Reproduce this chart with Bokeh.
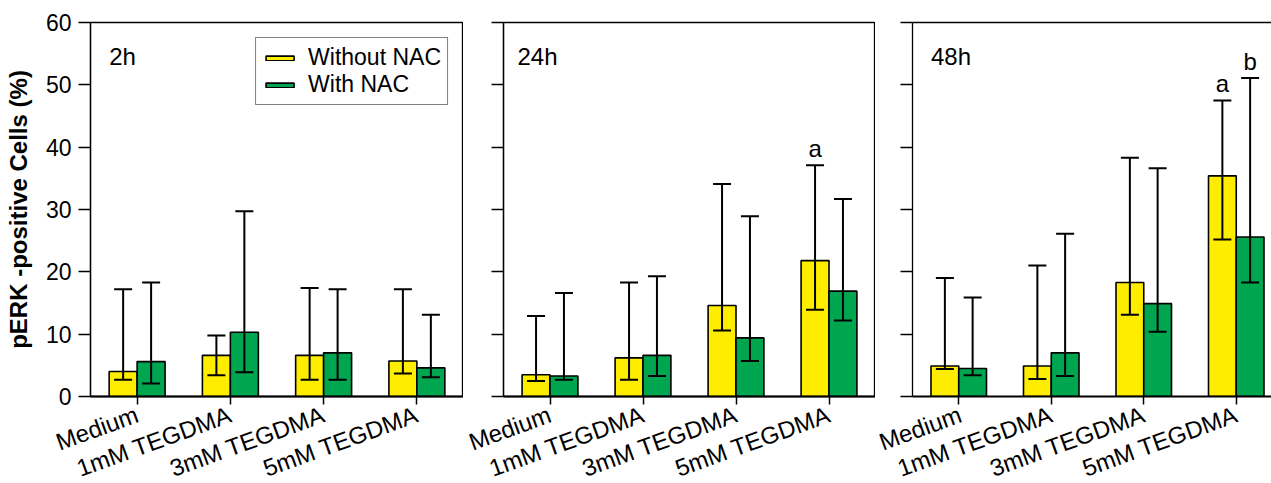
import math
from bokeh.plotting import figure
from bokeh.models import (Range1d, FixedTicker, Whisker, TeeHead, ColumnDataSource,
                          Label, LinearAxis)
from bokeh.layouts import row
from bokeh.embed import file_html
from bokeh.resources import INLINE
from bokeh.core.properties import value

categories = ["Medium", "1mM TEGDMA", "3mM TEGDMA", "5mM TEGDMA"]
time_labels = ["2h", "24h", "48h"]
series_names = ["Without NAC", "With NAC"]
y_ticks = [0, 10, 20, 30, 40, 50, 60]

without_mean = [[4.0, 6.6, 6.6, 5.7], [3.5, 6.2, 14.6, 21.8], [4.9, 4.9, 18.3, 35.4]]
without_lo = [[2.7, 3.4, 2.7, 3.7], [2.5, 2.7, 10.6, 13.9], [4.4, 2.8, 13.1, 25.2]]
without_hi = [[17.2, 9.8, 17.4, 17.2], [12.9, 18.3, 34.1, 37.1], [19.0, 21.0, 38.3, 47.5]]

with_mean = [[5.6, 10.3, 7.0, 4.6], [3.3, 6.6, 9.4, 16.9], [4.5, 7.0, 14.9, 25.6]]
with_lo = [[2.1, 3.9, 2.7, 3.1], [2.7, 3.3, 5.7, 12.2], [3.4, 3.3, 10.4, 18.3]]
with_hi = [[18.3, 29.7, 17.2, 13.1], [16.6, 19.3, 28.9, 31.7], [15.9, 26.1, 36.6, 51.1]]

sig_without = [["", "", "", ""], ["", "", "", "a"], ["", "", "", "a"]]
sig_with = [["", "", "", ""], ["", "", "", ""], ["", "", "", "b"]]

YELLOW = "#FFED00"
GREEN = "#00A550"
FONT = "Liberation Sans"
BAR_W = 0.3

# layout per panel: frame_width, frame_height, min_border_left, min_border_top, x_end, label_x
panel_cfg = [
    (373, 374, 90, 22, 4.0, 0.2),
    (372, 374, 40, 22, 4.0, 0.15),
    (359, 374, 37, 22, 359 / 92.5, 0.2),
]

panels = []
for i, t in enumerate(time_labels):
    fw, fh, mbl, mbt, xend, lx = panel_cfg[i]
    p = figure(frame_width=fw, frame_height=fh, output_backend="svg", toolbar_location=None,
               x_range=Range1d(0, xend), y_range=Range1d(0, 60),
               min_border_left=mbl, min_border_top=mbt, min_border_right=0,
               min_border_bottom=483 - mbt - fh)
    p.grid.visible = False
    p.background_fill_color = "white"
    p.border_fill_color = "white"
    if i < 2:
        p.outline_line_color = "black"
        p.outline_line_width = 1.3
    else:
        p.outline_line_color = None
        top_ax = LinearAxis(ticker=FixedTicker(ticks=[]), major_tick_line_color=None,
                            minor_tick_line_color=None, axis_line_width=1.5,
                            axis_line_color="black", major_label_standoff=0)
        p.add_layout(top_ax, "above")

    centers = [k + 0.5 for k in range(len(categories))]
    for s, (mean, lo, hi, sig, color, off) in enumerate([
        (without_mean[i], without_lo[i], without_hi[i], sig_without[i], YELLOW, -BAR_W / 2),
        (with_mean[i], with_lo[i], with_hi[i], sig_with[i], GREEN, BAR_W / 2),
    ]):
        xs = [c + off for c in centers]
        src = ColumnDataSource(dict(x=xs, top=mean, lo=lo, hi=hi, sig=sig))
        kw = {}
        if i == 0:
            kw["legend_label"] = series_names[s]
        p.vbar(x="x", top="top", bottom=0, width=BAR_W, source=src, fill_color=color,
               line_color="black", line_width=1.6, **kw)
        w = Whisker(base="x", upper="hi", lower="lo", source=src, line_width=2,
                    line_color="black", level="overlay",
                    upper_head=TeeHead(size=18, line_width=2, line_color="black"),
                    lower_head=TeeHead(size=18, line_width=2, line_color="black"))
        p.add_layout(w)
        p.text(x="x", y="hi", text="sig", source=src, text_align="center",
               text_baseline="bottom", y_offset=-3, text_font=value(FONT),
               text_font_size="24px", text_color="black")

    p.add_layout(Label(x=lx, y=54.5, text=t, text_baseline="middle", text_font=FONT,
                       text_font_size="24px", text_color="black"))

    # x axis (bottom only)
    xa = p.below[0]
    xa.ticker = FixedTicker(ticks=centers)
    xa.major_label_overrides = {c: categories[k] for k, c in enumerate(centers)}
    xa.major_label_orientation = math.radians(20)
    xa.major_label_text_font = FONT
    xa.major_label_text_font_size = "24px"
    xa.major_label_text_color = "black"
    xa.major_tick_in = 0
    xa.major_tick_out = 8
    xa.major_tick_line_width = 1.5
    xa.minor_tick_line_color = None
    xa.axis_line_width = 2
    xa.axis_line_color = "black"
    xa.major_label_standoff = 9

    # y axis
    ya = p.left[0]
    ya.ticker = FixedTicker(ticks=y_ticks)
    ya.major_tick_in = 0
    ya.major_tick_out = 12
    ya.major_tick_line_width = 1.3
    ya.minor_tick_line_color = None
    ya.axis_line_width = 1.3
    ya.axis_line_color = "black"
    if i == 0:
        ya.major_label_text_font = FONT
        ya.major_label_text_font_size = "23px"
        ya.major_label_text_color = "black"
        ya.major_label_standoff = 7
        ya.axis_label = "pERK -positive Cells (%)"
        ya.axis_label_text_font = FONT
        ya.axis_label_text_font_size = "24px"
        ya.axis_label_text_font_style = "bold"
        ya.axis_label_text_color = "black"
        ya.axis_label_standoff = 11
        lg = p.legend[0]
        lg.location = "top_right"
        lg.margin = 15
        lg.padding = 6
        lg.spacing = 0
        lg.glyph_width = 35
        lg.glyph_height = 6
        lg.label_height = 20
        lg.label_standoff = 11
        lg.label_text_font = FONT
        lg.label_text_font_size = "23px"
        lg.label_text_color = "black"
        lg.border_line_color = "black"
        lg.border_line_width = 1.5
        lg.background_fill_color = "white"
        lg.background_fill_alpha = 1.0
    else:
        ya.major_label_overrides = {v: "" for v in y_ticks}
        ya.major_label_standoff = 0
    panels.append(p)

layout = row(*panels, spacing=0)
open("out.html", "w").write(file_html(layout, INLINE))
